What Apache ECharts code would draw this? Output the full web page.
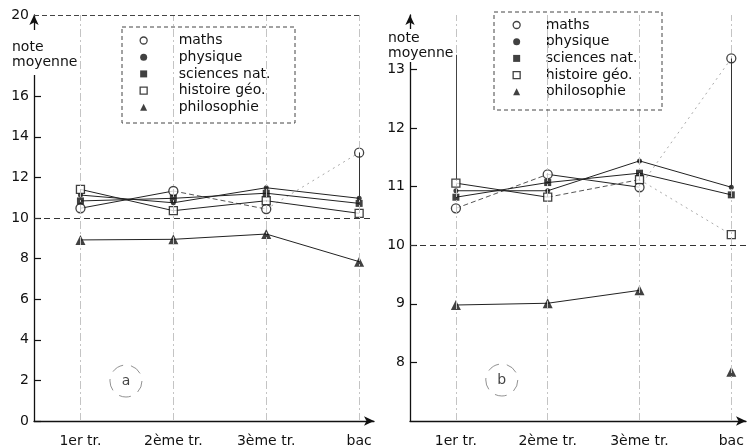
<!DOCTYPE html>
<html>
<head>
<meta charset="utf-8">
<script src="https://cdn.jsdelivr.net/npm/echarts@6/dist/echarts.min.js"></script>
<style>
  html, body { margin: 0; padding: 0; background: #fff; }
  #chart { width: 748px; height: 447px; }
</style>
</head>
<body>
<div id="chart"></div>
<script>
// Periods on the x axis and subjects in the legend
const periods = ['1er tr.', '2ème tr.', '3ème tr.', 'bac'];
const subjects = ['maths', 'physique', 'sciences nat.', 'histoire géo.', 'philosophie'];

// Panel a: average marks, full 0-20 scale
const mathsA    = [10.48, 11.33, 10.44, 13.22];
const physiqueA = [11.13, 10.75, 11.49, 10.97];
const sciencesA = [10.84, 10.97, 11.22, 10.72];
const histoireA = [11.41, 10.36, 10.85, 10.23];
const philoA    = [8.92, 8.95, 9.21, 7.85];

// Panel b: same averages, zoomed scale
const mathsB    = [10.63, 11.21, 10.99, 13.19];
const physiqueB = [10.93, 10.93, 11.44, 10.99];
const sciencesB = [10.82, 11.07, 11.23, 10.86];
const histoireB = [11.06, 10.82, 11.12, 10.18];
const philoB    = [8.98, 9.01, 9.23, 7.84];

// Tick labels
const ticksA = [0, 2, 4, 6, 8, 10, 12, 14, 16, 20];
const ticksB = [8, 9, 10, 11, 12, 13];
const periodTicks = [0, 1, 2, 3];

const FONT = 'DejaVu Sans';
const INK = '#111';

// marker look per subject
const markers = [
  { symbol: 'circle', size: 9, itemStyle: { color: '#fff', borderColor: INK, borderWidth: 1.3 } },
  { symbol: 'circle', size: 5, itemStyle: { color: INK } },
  { symbol: 'rect', size: 7, itemStyle: { color: INK } },
  { symbol: 'rect', size: 8, itemStyle: { color: '#fff', borderColor: INK, borderWidth: 1.3 } },
  { symbol: 'triangle', size: 10, itemStyle: { color: INK } }
];

// how each segment between two periods is stroked
const strokes = {
  solid:  { color: '#222', width: 1, type: 'solid' },
  dashed: { color: '#555', width: 1, type: [5, 3] },
  faint:  { color: '#aaa', width: 1, type: [2, 4] }
};
const segStylesA = [
  ['solid', 'dashed', 'faint'],
  ['solid', 'solid', 'solid'],
  ['solid', 'solid', 'solid'],
  ['solid', 'solid', 'solid'],
  ['solid', 'solid', 'solid']
];
const segStylesB = [
  ['dashed', 'solid', 'faint'],
  ['solid', 'solid', 'solid'],
  ['solid', 'solid', 'solid'],
  ['solid', 'dashed', 'faint'],
  ['solid', 'solid', 'none']
];

const panels = [
  { values: [mathsA, physiqueA, sciencesA, histoireA, philoA], segs: segStylesA },
  { values: [mathsB, physiqueB, sciencesB, histoireB, philoB], segs: segStylesB }
];

const series = [];
panels.forEach((panel, p) => {
  panel.values.forEach((vals, s) => {
    for (let i = 0; i < vals.length - 1; i++) {
      const kind = panel.segs[s][i];
      if (kind === 'none') continue;
      series.push({
        type: 'line', xAxisIndex: p, yAxisIndex: p, silent: true, animation: false,
        symbol: 'none', z: 2,
        lineStyle: strokes[kind],
        data: [[i, vals[i]], [i + 1, vals[i + 1]]]
      });
    }
    series.push({
      name: subjects[s], type: 'scatter', xAxisIndex: p, yAxisIndex: p,
      silent: true, animation: false, z: 4,
      symbol: markers[s].symbol, symbolSize: markers[s].size,
      itemStyle: markers[s].itemStyle,
      data: vals.map((v, i) => [i, v])
    });
  });
});

// guide lines: period verticals, the pass mark at 10, frame of panel a
function guides(p, maths, physique, extra) {
  const grid = { color: '#c4c4c4', width: 1, type: [8, 3, 2, 3] };
  const data = periodTicks.map(i => ({ xAxis: i, lineStyle: grid }));
  data.push({ yAxis: 10, lineStyle: { color: '#333', width: 1, type: [6, 4] } });
  data.push([
    { coord: [3, maths[3]], lineStyle: { color: '#333', width: 1, type: 'solid' } },
    { coord: [3, physique[3]] }
  ]);
  return {
    type: 'line', xAxisIndex: p, yAxisIndex: p, silent: true, animation: false,
    symbol: 'none', lineStyle: { opacity: 0 }, z: 1,
    data: maths.map((v, i) => [i, v]),
    markLine: {
      silent: true, animation: false, symbol: ['none', 'none'],
      label: { show: false },
      data: data.concat(extra)
    }
  };
}
series.push(guides(0, mathsA, physiqueA, [
  [{ coord: [-0.5, 20], lineStyle: { color: '#444', width: 1, type: [5, 3] } }, { coord: [3, 20] }]
]));
series.push(guides(1, mathsB, physiqueB, [
  [{ coord: [0, 11.12], lineStyle: { color: '#444', width: 1, type: 'solid' } }, { coord: [0, 13.25] }]
]));

// circled panel tags
function tag(p, pos, letter) {
  return {
    type: 'scatter', xAxisIndex: p, yAxisIndex: p, silent: true, animation: false, z: 3,
    symbol: 'circle', symbolSize: 32,
    itemStyle: { color: 'rgba(0,0,0,0)', borderColor: '#777', borderWidth: 1, borderType: [12, 8] },
    label: { show: true, position: 'inside', formatter: letter, fontFamily: FONT, fontSize: 14, color: INK },
    data: [pos]
  };
}
series.push(tag(0, [0.49, 1.97], 'a'));
series.push(tag(1, [0.5, 7.7], 'b'));

function xAxisFor(grid) {
  return {
    gridIndex: grid, type: 'value', min: -0.5, max: 3.16,
    axisLine: { show: true, onZero: false, symbol: ['none', 'arrow'], symbolSize: [7, 10], lineStyle: { color: INK, width: 1.3 } },
    axisTick: { show: false },
    splitLine: { show: false },
    axisLabel: {
      customValues: periodTicks, margin: 13,
      formatter: v => periods[v] || '',
      fontFamily: FONT, fontSize: 14, color: INK
    }
  };
}
function yAxisFor(grid, min, max, labels, ticks) {
  return {
    gridIndex: grid, type: 'value', min: min, max: max,
    axisLine: { show: true, onZero: false, symbol: ['none', 'arrow'], symbolSize: [7, 10], lineStyle: { color: INK, width: 1.3 } },
    axisTick: { show: true, inside: true, length: 7, customValues: ticks, lineStyle: { color: INK, width: 1.2 } },
    splitLine: { show: false },
    axisLabel: { customValues: labels, margin: 5, fontFamily: FONT, fontSize: 14, color: INK }
  };
}

function legendFor(left, top, pad) {
  return {
    left: left, top: top, orient: 'vertical', padding: 0,
    itemWidth: 7, itemHeight: 7, itemGap: 1.7, selectedMode: false,
    textStyle: { fontFamily: FONT, fontSize: 14, color: INK, lineHeight: 15, padding: [0, 0, 0, pad] },
    data: subjects.map((name, s) => ({
      name: name,
      icon: markers[s].symbol,
      itemStyle: Object.assign({ borderWidth: 0 }, markers[s].itemStyle)
    }))
  };
}

const noteLabel = (left, top, padTop, padBottom) => ({
  type: 'text', left: left, top: top, z: 50,
  style: {
    text: 'note\nmoyenne', font: '14px "DejaVu Sans"', fill: INK, lineHeight: 15,
    backgroundColor: '#fff', padding: [padTop, 2, padBottom, 0]
  }
});
const legendBox = (x, y, w, h) => ({
  type: 'rect', z: 40, silent: true,
  shape: { x: x, y: y, width: w, height: h },
  style: { fill: 'none', stroke: '#444', lineWidth: 1, lineDash: [4, 3] }
});

const chart = echarts.init(document.getElementById('chart'), null, { renderer: 'canvas' });
chart.setOption({
  animation: false,
  backgroundColor: '#fff',
  grid: [
    { left: 34, top: 15, width: 340, height: 406, outerBoundsMode: 'none' },
    { left: 410, top: 15, width: 336, height: 406, outerBoundsMode: 'none' }
  ],
  xAxis: [xAxisFor(0), xAxisFor(1)],
  yAxis: [
    yAxisFor(0, 0, 20, ticksA, [0, 2, 4, 6, 8, 10, 12, 14, 16]),
    yAxisFor(1, 7, 13.93, ticksB, ticksB)
  ],
  legend: [legendFor(139.5, 33, 26.5), legendFor(512.5, 17.5, 20.5)],
  graphic: [
    noteLabel(12, 30, 10, 5),
    noteLabel(388, 29, 2, 1),
    legendBox(122, 27, 173, 96),
    legendBox(494, 12, 168, 98)
  ],
  series: series
});
</script>
</body>
</html>
